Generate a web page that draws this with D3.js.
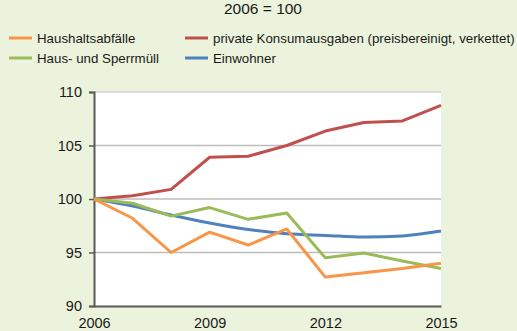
<!DOCTYPE html>
<html>
<head>
<meta charset="utf-8">
<script src="https://cdn.jsdelivr.net/npm/d3@7"></script>
<style>
  html, body { margin: 0; padding: 0; background: #EBF3DC; }
  svg { display: block; font-family: "Liberation Sans", Arial, sans-serif; }
</style>
</head>
<body>
<svg id="chart" width="517" height="331"></svg>
<script>
// Index values, 2006 = 100
const years = [2006, 2007, 2008, 2009, 2010, 2011, 2012, 2013, 2014, 2015];
const haushaltsabfaelle = [100, 98.2, 95.0, 96.9, 95.7, 97.2, 92.7, 93.1, 93.5, 94.0];
const hausSperrmuell    = [100, 99.6, 98.4, 99.2, 98.1, 98.7, 94.5, 94.95, 94.2, 93.5];
const konsumausgaben    = [100, 100.3, 100.9, 103.9, 104.0, 105.0, 106.35, 107.15, 107.3, 108.75];
const einwohner         = [100, 99.35, 98.5, 97.75, 97.15, 96.75, 96.6, 96.45, 96.55, 97.0];

const xTicks = [2006, 2009, 2012, 2015];
const yTicks = [90, 95, 100, 105, 110];
const title = "2006 = 100";

const series = [
  { name: "Einwohner", values: einwohner, color: "#4F81BD", smooth: true },
  { name: "private Konsumausgaben (preisbereinigt, verkettet)", values: konsumausgaben, color: "#C0504D" },
  { name: "Haus- und Sperrmüll", values: hausSperrmuell, color: "#9BBB59" },
  { name: "Haushaltsabfälle", values: haushaltsabfaelle, color: "#F79646" }
];

// Legend layout: two columns, two rows
const legendItems = [
  { name: "Haushaltsabfälle", color: "#F79646", col: 0, row: 0 },
  { name: "private Konsumausgaben (preisbereinigt, verkettet)", color: "#C0504D", col: 1, row: 0 },
  { name: "Haus- und Sperrmüll", color: "#9BBB59", col: 0, row: 1 },
  { name: "Einwohner", color: "#4F81BD", col: 1, row: 1 }
];

const svg = d3.select("#chart");
const plot = { left: 94, right: 441, top: 92, bottom: 306 };

const x = d3.scaleLinear().domain([2006, 2015]).range([plot.left, plot.right]);
const y = d3.scaleLinear().domain([90, 110]).range([plot.bottom, plot.top]);

// Title
svg.append("text")
  .attr("x", 263).attr("y", 14)
  .attr("text-anchor", "middle")
  .attr("font-size", 15.5)
  .attr("fill", "#1a1a1a")
  .text(title);

// Legend
const legendX = [9, 185];
const legendY = [38, 58];
const lg = svg.append("g");
legendItems.forEach(d => {
  const gx = legendX[d.col], gy = legendY[d.row];
  lg.append("line")
    .attr("x1", gx).attr("x2", gx + 23)
    .attr("y1", gy).attr("y2", gy)
    .attr("stroke", d.color).attr("stroke-width", 3);
  lg.append("text")
    .attr("x", gx + 28).attr("y", gy + 4.5)
    .attr("font-size", 13.3)
    .attr("fill", "#1a1a1a")
    .text(d.name);
});

// Plot background
svg.append("rect")
  .attr("x", plot.left).attr("y", plot.top)
  .attr("width", plot.right - plot.left)
  .attr("height", plot.bottom - plot.top)
  .attr("fill", "#ffffff");

// Gridlines
svg.append("g")
  .selectAll("line")
  .data(yTicks.filter(t => t !== 90))
  .join("line")
  .attr("x1", plot.left).attr("x2", plot.right)
  .attr("y1", d => y(d)).attr("y2", d => y(d))
  .attr("stroke", d => d === 110 ? "#D0D0D0" : "#BDBDBD")
  .attr("stroke-width", 1.5);

// Y axis
const yAxis = svg.append("g")
  .attr("transform", `translate(${plot.left},0)`)
  .call(d3.axisLeft(y).tickValues(yTicks).tickSize(5).tickPadding(7).tickFormat(d3.format("d")));
yAxis.select(".domain").attr("stroke", "#595959").attr("stroke-width", 2);
yAxis.selectAll(".tick line").attr("stroke", "#595959").attr("stroke-width", 1.5);
yAxis.selectAll(".tick text")
  .attr("font-size", 14.5).attr("fill", "#1a1a1a")
  .attr("font-family", "Liberation Sans, Arial, sans-serif");

// X axis
const xAxis = svg.append("g")
  .attr("transform", `translate(0,${plot.bottom})`)
  .call(d3.axisBottom(x).tickValues(xTicks).tickSize(0).tickPadding(12).tickFormat(d3.format("d")));
xAxis.select(".domain").attr("stroke", "#595959").attr("stroke-width", 2);
xAxis.selectAll(".tick text")
  .attr("font-size", 14.5).attr("fill", "#1a1a1a")
  .attr("font-family", "Liberation Sans, Arial, sans-serif");

// Series lines
series.forEach(s => {
  const line = d3.line()
    .x((v, i) => x(years[i]))
    .y(v => y(v))
    .curve(s.smooth ? d3.curveMonotoneX : d3.curveLinear);
  svg.append("path")
    .datum(s.values)
    .attr("d", line)
    .attr("fill", "none")
    .attr("stroke", s.color)
    .attr("stroke-width", 3)
    .attr("stroke-linejoin", "round");
});
</script>
</body>
</html>
